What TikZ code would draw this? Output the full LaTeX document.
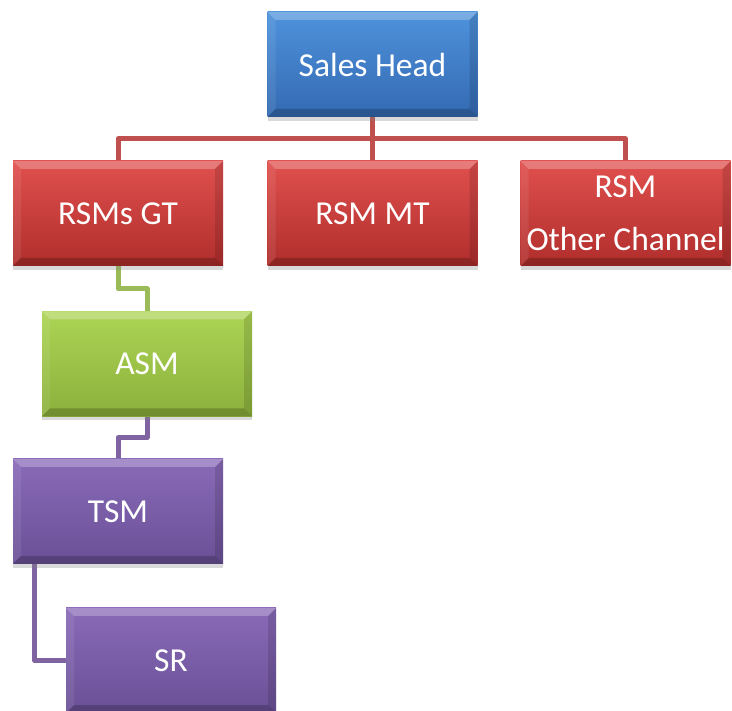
\documentclass[tikz,border=0pt]{standalone}
\usepackage{fontspec}
\setmainfont{Carlito}
\usetikzlibrary{calc,shadows,backgrounds}
\definecolor{blueT}{RGB}{78,146,220}
\definecolor{blueB}{RGB}{52,106,178}
\definecolor{redT}{RGB}{224,80,78}
\definecolor{redB}{RGB}{176,46,44}
\definecolor{greenT}{RGB}{172,212,84}
\definecolor{greenB}{RGB}{140,176,60}
\definecolor{purpT}{RGB}{137,106,184}
\definecolor{purpB}{RGB}{106,80,150}
\definecolor{redLine}{RGB}{192,80,77}
\definecolor{greenLine}{RGB}{155,187,89}
\definecolor{purpLine}{RGB}{128,100,162}
\tikzset{
  x=1pt, y=1pt,
  orgbox/.style={
    rectangle, minimum width=210pt, minimum height=105pt, inner sep=0pt,
    text=white, align=center,
    font=\fontsize{33.5}{53}\selectfont,
    drop shadow={opacity=0.3, shadow xshift=0pt, shadow yshift=-4pt},
    path picture={
      \fill[white,opacity=0.25]
        (path picture bounding box.north west) -- (path picture bounding box.north east)
        -- ([shift={(-8pt,-8pt)}]path picture bounding box.north east)
        -- ([shift={(8pt,-8pt)}]path picture bounding box.north west) -- cycle;
      \fill[white,opacity=0.08]
        (path picture bounding box.north west) -- ([shift={(8pt,-8pt)}]path picture bounding box.north west)
        -- ([shift={(8pt,8pt)}]path picture bounding box.south west)
        -- (path picture bounding box.south west) -- cycle;
      \fill[black,opacity=0.12]
        (path picture bounding box.north east) -- ([shift={(-8pt,-8pt)}]path picture bounding box.north east)
        -- ([shift={(-8pt,8pt)}]path picture bounding box.south east)
        -- (path picture bounding box.south east) -- cycle;
      \fill[black,opacity=0.2]
        (path picture bounding box.south west) -- (path picture bounding box.south east)
        -- ([shift={(-8pt,8pt)}]path picture bounding box.south east)
        -- ([shift={(8pt,8pt)}]path picture bounding box.south west) -- cycle;
    }
  },
  bluebox/.style={orgbox, top color=blueT, bottom color=blueB},
  redbox/.style={orgbox, top color=redT, bottom color=redB},
  greenbox/.style={orgbox, top color=greenT, bottom color=greenB},
  purpbox/.style={orgbox, top color=purpT, bottom color=purpB},
  conn/.style={line width=5pt, line join=round}
}
\begin{document}
\begin{tikzpicture}
\useasboundingbox (0,0) rectangle (732,-711);
\node[bluebox] (sh) at (372.5,-64.5) {Sales Head};
\node[redbox] (gt) at (118,-213.5) {RSMs GT};
\node[redbox] (mt) at (372.5,-213.5) {RSM MT};
\node[redbox] (oc) at (625.5,-213.5) {RSM\\Other Channel};
\node[greenbox] (asm) at (147,-364) {ASM};
\node[purpbox] (tsm) at (118,-511.5) {TSM};
\node[purpbox] (sr) at (171,-660.5) {SR};
\coordinate (hub) at (372.5,-139);
\begin{scope}[on background layer]
\draw[conn, redLine] (sh.south) -- (hub);
\draw[conn, redLine] (hub) -- (mt.north);
\draw[conn, redLine] (hub) -| (gt.north);
\draw[conn, redLine] (hub) -| (oc.north);
\draw[conn, greenLine] (gt.south) |- ($(gt.south)!0.5!(asm.north)$) -| (asm.north);
\draw[conn, purpLine] (asm.south) |- ($(asm.south)!0.5!(tsm.north)$) -| (tsm.north);
\draw[conn, purpLine] ([xshift=22pt]tsm.south west) |- (sr.west);
\end{scope}
\end{tikzpicture}
\end{document}
